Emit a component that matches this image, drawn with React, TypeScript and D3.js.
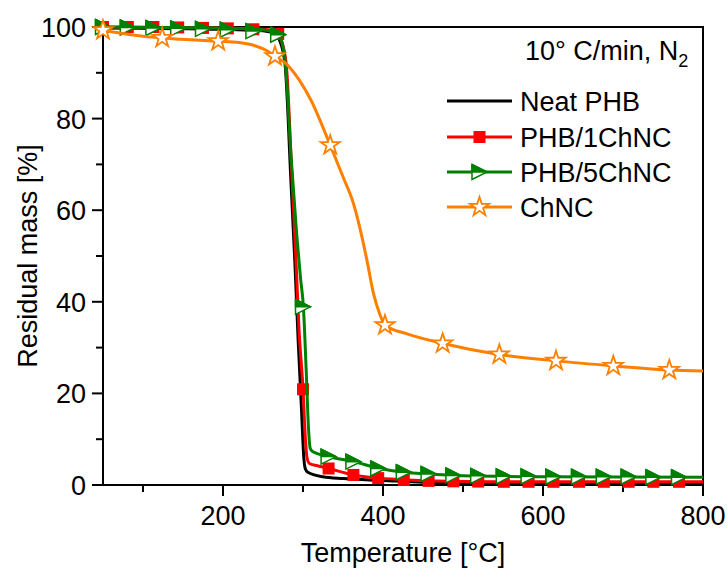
import React, { useRef, useEffect } from 'react';
import * as d3 from 'd3';

// TGA curves, temperature [°C] vs residual mass [%]
const neatPhb: [number, number][] = [
  [50, 99.8], [200, 99.5], [250, 99.2], [265, 98.5], [271, 97], [277.5, 92], [285, 66],
  [290, 48], [294, 31.4], [298, 17], [301, 6], [303, 3.5], [306, 2.8], [325, 1.8],
  [350, 1.4], [400, 1.0], [450, 0.6], [500, 0.45], [600, 0.4], [800, 0.35],
];
const phb1: [number, number][] = [
  [50, 100], [200, 99.8], [250, 99.5], [265, 99], [272, 97.5], [279, 92], [286, 68],
  [291, 50], [295, 34], [300, 21], [303, 10], [305, 6], [308, 4.7], [320, 4.1],
  [332, 3.6], [363, 2.2], [396, 1.5], [430, 1.1], [480, 0.8], [550, 0.7], [800, 0.7],
];
const phb5: [number, number][] = [
  [50, 100], [200, 99.8], [250, 99.4], [269, 98.3], [274, 96.5], [278, 92], [285, 72],
  [292, 55], [297, 45], [300.5, 38.9], [304, 25], [307, 12], [309, 8], [312, 7.3],
  [332, 6.2], [363, 5.1], [396, 3.6], [426, 2.8], [457, 2.4], [500, 2.0], [600, 1.8], [800, 1.7],
];
const chnc: [number, number][] = [
  [50, 99.3], [90, 98.2], [124, 97.6], [160, 97.2], [194, 96.9], [220, 96.6], [240, 95.9],
  [255, 94.8], [265, 93.6], [280, 91.8], [295, 88.5], [310, 84], [334, 74.2], [350, 67.3],
  [363, 61.5], [371, 56.2], [380, 49], [388, 41.9], [396, 37.3], [402.5, 34.9], [430, 33],
  [475, 30.9], [545, 28.5], [616, 27.1], [688, 26], [758, 25.1], [800, 24.9],
];

// marker positions
const markTemps = [50, 81, 113, 144, 175, 206, 238, 269, 300, 332, 363, 394, 426, 457, 488, 519, 551, 582, 613, 645, 676, 707, 738, 770];
const phb1Marks = [100, 100, 100, 99.9, 99.8, 99.7, 99.5, 98.5, 20.9, 3.6, 2.2, 1.5, 1.1, 0.9, 0.8, 0.75, 0.7, 0.7, 0.7, 0.7, 0.7, 0.7, 0.7, 0.7];
const phb5Marks = [100, 99.9, 99.8, 99.7, 99.6, 99.4, 99.1, 98.3, 38.9, 6.2, 5.1, 3.6, 2.8, 2.4, 2.1, 2.0, 1.9, 1.9, 1.8, 1.8, 1.8, 1.8, 1.7, 1.7];
const chncMarkTemps = [50, 124, 194, 265, 334, 402.5, 474.6, 545.4, 616.3, 687.9, 757.9];
const chncMarks = [99.3, 97.6, 96.9, 93.6, 74.2, 34.9, 30.9, 28.5, 27.1, 26.0, 25.1];

const legendLabels = ['Neat PHB', 'PHB/1ChNC', 'PHB/5ChNC', 'ChNC'];
const colors = ['#000000', '#ff0000', '#008000', '#ff8000'];
const xTicks = [200, 400, 600, 800];
const xMinor = [100, 300, 500, 700];
const yTicks = [0, 20, 40, 60, 80, 100];
const yMinor = [10, 30, 50, 70, 90];

const FONT = 'Arial, "Liberation Sans", Helvetica, sans-serif';

const App = () => {
  const svgRef = useRef<SVGSVGElement>(null);

  useEffect(() => {
    const svg = d3.select(svgRef.current);
    svg.selectAll('*').remove();

    const left = 103, right = 703, top = 27, bottom = 485;
    const x = d3.scaleLinear().domain([50, 800]).range([left, right]);
    const y = d3.scaleLinear().domain([0, 100]).range([bottom, top]);

    const g = svg.append('g');

    // frame
    g.append('rect')
      .attr('x', left).attr('y', top)
      .attr('width', right - left).attr('height', bottom - top)
      .attr('fill', 'none').attr('stroke', '#000').attr('stroke-width', 2);

    // x ticks
    xTicks.forEach(t => {
      g.append('line').attr('x1', x(t)).attr('x2', x(t)).attr('y1', bottom).attr('y2', bottom + 11)
        .attr('stroke', '#000').attr('stroke-width', 2);
      g.append('text').attr('x', x(t)).attr('y', bottom + 40)
        .attr('text-anchor', 'middle').attr('font-family', FONT).attr('font-size', 27).text(t);
    });
    xMinor.forEach(t => {
      g.append('line').attr('x1', x(t)).attr('x2', x(t)).attr('y1', bottom).attr('y2', bottom + 7)
        .attr('stroke', '#000').attr('stroke-width', 2);
    });

    // y ticks
    yTicks.forEach(t => {
      g.append('line').attr('x1', left - 11).attr('x2', left).attr('y1', y(t)).attr('y2', y(t))
        .attr('stroke', '#000').attr('stroke-width', 2);
      g.append('text').attr('x', left - 17).attr('y', y(t) + 10)
        .attr('text-anchor', 'end').attr('font-family', FONT).attr('font-size', 27).text(t);
    });
    yMinor.forEach(t => {
      g.append('line').attr('x1', left - 7).attr('x2', left).attr('y1', y(t)).attr('y2', y(t))
        .attr('stroke', '#000').attr('stroke-width', 2);
    });

    // axis titles
    g.append('text').attr('x', (left + right) / 2).attr('y', 562)
      .attr('text-anchor', 'middle').attr('font-family', FONT).attr('font-size', 27)
      .text('Temperature [°C]');
    g.append('text').attr('transform', `translate(37,${(top + bottom) / 2}) rotate(-90)`)
      .attr('text-anchor', 'middle').attr('font-family', FONT).attr('font-size', 27)
      .text('Residual mass [%]');

    const line = d3.line<[number, number]>()
      .x(d => x(d[0])).y(d => y(d[1]))
      .curve(d3.curveMonotoneX);

    const plot = g.append('g');

    const drawSquare = (sel: any, cx: number, cy: number, color: string) => {
      sel.append('rect').attr('x', cx - 6).attr('y', cy - 6).attr('width', 12).attr('height', 12)
        .attr('fill', color);
    };
    const drawTriangle = (sel: any, cx: number, cy: number, color: string) => {
      const s = 7.5;
      sel.append('path')
        .attr('d', `M${cx - s},${cy - s}L${cx + s},${cy}L${cx - s},${cy + s}Z`)
        .attr('fill', '#fff').attr('stroke', color).attr('stroke-width', 1.5);
      sel.append('path')
        .attr('d', `M${cx - s},${cy - s}L${cx + s},${cy}L${cx - s},${cy}Z`)
        .attr('fill', color).attr('stroke', color).attr('stroke-width', 1.5)
        .attr('stroke-linejoin', 'round');
    };
    const starPath = d3.symbol().type(d3.symbolStar).size(115)();
    const drawStar = (sel: any, cx: number, cy: number, color: string) => {
      sel.append('path').attr('d', starPath).attr('transform', `translate(${cx},${cy})`)
        .attr('fill', '#fff').attr('stroke', color).attr('stroke-width', 1.8)
        .attr('stroke-linejoin', 'miter');
    };

    // Neat PHB
    plot.append('path').attr('d', line(neatPhb)).attr('fill', 'none')
      .attr('stroke', colors[0]).attr('stroke-width', 3);
    // PHB/1ChNC
    plot.append('path').attr('d', line(phb1)).attr('fill', 'none')
      .attr('stroke', colors[1]).attr('stroke-width', 3);
    markTemps.forEach((t, i) => drawSquare(plot, x(t), y(phb1Marks[i]), colors[1]));
    // PHB/5ChNC
    plot.append('path').attr('d', line(phb5)).attr('fill', 'none')
      .attr('stroke', colors[2]).attr('stroke-width', 3);
    markTemps.forEach((t, i) => drawTriangle(plot, x(t), y(phb5Marks[i]), colors[2]));
    // ChNC
    plot.append('path').attr('d', line(chnc)).attr('fill', 'none')
      .attr('stroke', colors[3]).attr('stroke-width', 3);
    chncMarkTemps.forEach((t, i) => drawStar(plot, x(t), y(chncMarks[i]), colors[3]));

    // legend
    const header = g.append('text').attr('x', 525).attr('y', 60)
      .attr('font-family', FONT).attr('font-size', 27);
    header.append('tspan').text('10° C/min, N');
    header.append('tspan').attr('font-size', 18).attr('dy', 7).text('2');

    const rows = [101, 137, 172, 207];
    legendLabels.forEach((label, i) => {
      const ry = rows[i];
      g.append('line').attr('x1', 447).attr('x2', 512).attr('y1', ry).attr('y2', ry)
        .attr('stroke', colors[i]).attr('stroke-width', 3);
      if (i === 1) drawSquare(g, 479.5, ry, colors[i]);
      if (i === 2) drawTriangle(g, 479.5, ry, colors[i]);
      if (i === 3) drawStar(g, 479.5, ry, colors[i]);
      g.append('text').attr('x', 520).attr('y', ry + 10)
        .attr('font-family', FONT).attr('font-size', 27).text(label);
    });
  }, []);

  return (
    <svg ref={svgRef} width={728} height={577}
      style={{ position: 'absolute', left: 0, top: 0, background: '#fff' }} />
  );
};

export default App;
